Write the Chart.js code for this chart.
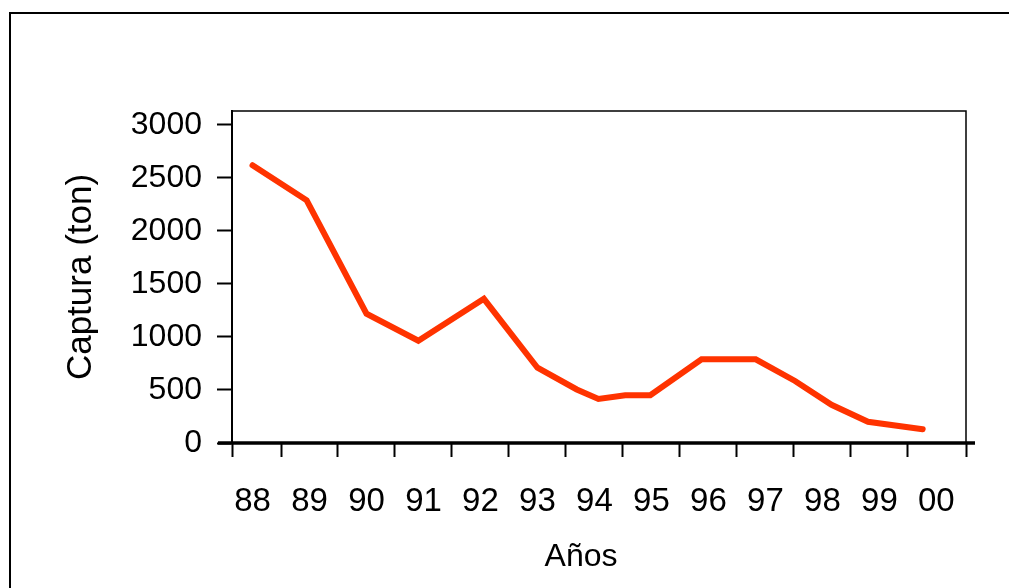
<!DOCTYPE html>
<html lang="es">

<head>
    <meta charset="UTF-8">
    <title>Captura (ton) por año</title>
    <script src="https://cdn.jsdelivr.net/npm/chart.js"></script>
    <style>
        body { margin: 0; overflow: hidden; background: #fff; }
        #marco {
            position: absolute; left: 9px; top: 12px;
            width: 1100px; height: 700px;
            border: 2.5px solid #000;
        }
        #grafico-container {
            position: absolute; left: 0; top: 0;
            width: 1009px; height: 588px;
        }
    </style>
</head>

<body>
    <div id="marco"></div>
    <div id="grafico-container">
        <canvas id="grafico"></canvas>
    </div>

    <script>
        // años (posición de cada punto en el eje x) y captura en toneladas
        const anos = [88.0, 88.95, 90.0, 90.91, 92.06, 93.0, 93.69, 94.07, 94.54, 94.98, 95.88, 96.83, 97.52, 98.16, 98.8, 99.76];
        const captura = [2620, 2290, 1220, 965, 1360, 710, 505, 415, 450, 450, 790, 790, 585, 360, 200, 130];

        // etiquetas del eje x
        const anosEtiqueta = [88, 89, 90, 91, 92, 93, 94, 95, 96, 97, 98, 99, 100];
        const textoEtiqueta = ['88', '89', '90', '91', '92', '93', '94', '95', '96', '97', '98', '99', '00'];
        const marcasX = [88.5, 89.5, 90.5, 91.5, 92.5, 93.5, 94.5, 95.5, 96.5, 97.5, 98.5, 99.5];
        const xMin = 87.64;
        const xMax = 100.52;

        // eje y
        const ticksY = [0, 500, 1000, 1500, 2000, 2500, 3000];
        const yMax = 3132;

        const fuente = 'Liberation Sans, Arial, sans-serif';

        const extras = {
            id: 'extras',
            afterDraw(chart) {
                const ctx = chart.ctx;
                const area = chart.chartArea;
                const y0 = chart.scales.y.getPixelForValue(0);
                ctx.save();
                ctx.strokeStyle = '#000';
                // borde superior y derecho del area
                ctx.lineWidth = 1.5;
                ctx.beginPath();
                ctx.moveTo(area.left, area.top);
                ctx.lineTo(area.right, area.top);
                ctx.lineTo(area.right, y0);
                ctx.stroke();
                // linea del cero
                ctx.lineWidth = 3.5;
                ctx.beginPath();
                ctx.moveTo(area.left - 14, y0);
                ctx.lineTo(area.right + 9, y0);
                ctx.stroke();
                // titulo del eje x
                ctx.fillStyle = '#000';
                ctx.font = '32px ' + fuente;
                ctx.textAlign = 'center';
                ctx.textBaseline = 'middle';
                ctx.fillText('Años', 581, 557);
                ctx.restore();
            }
        };

        const ctx = document.getElementById('grafico').getContext('2d');
        const chart = new Chart(ctx, {
            type: 'line',
            data: {
                datasets: [{
                    label: 'Captura (ton)',
                    data: anos.map((a, i) => ({ x: a, y: captura[i] })),
                    borderColor: 'rgb(255, 51, 0)',
                    borderWidth: 6,
                    borderCapStyle: 'round',
                    pointRadius: 0,
                    tension: 0,
                    fill: false
                }]
            },
            options: {
                responsive: true,
                maintainAspectRatio: false,
                animation: false,
                events: [],
                layout: {
                    padding: { top: 111, right: 43, left: 0, bottom: 0 }
                },
                plugins: {
                    legend: { display: false },
                    tooltip: { enabled: false }
                },
                scales: {
                    x: {
                        type: 'linear',
                        min: xMin,
                        max: xMax,
                        afterFit(scale) { scale.height = 145; },
                        afterBuildTicks(scale) {
                            const vals = [xMin].concat(anosEtiqueta, marcasX, [xMax]).sort((a, b) => a - b);
                            scale.ticks = vals.map(v => ({ value: v }));
                        },
                        border: { display: false },
                        grid: {
                            drawOnChartArea: false,
                            drawTicks: true,
                            tickLength: 14,
                            tickWidth: 2,
                            tickColor: (c) => (c.tick && anosEtiqueta.includes(c.tick.value)) ? 'rgba(0,0,0,0)' : '#000'
                        },
                        ticks: {
                            autoSkip: false,
                            maxRotation: 0,
                            padding: 25,
                            color: '#000',
                            font: { family: fuente, size: 33 },
                            callback: (v) => {
                                const i = anosEtiqueta.indexOf(v);
                                return i >= 0 ? textoEtiqueta[i] : '';
                            }
                        }
                    },
                    y: {
                        min: 0,
                        max: yMax,
                        afterFit(scale) { scale.width = 232; },
                        afterBuildTicks(scale) {
                            scale.ticks = ticksY.map(v => ({ value: v }));
                        },
                        border: { display: true, color: '#000', width: 2 },
                        grid: {
                            drawOnChartArea: false,
                            drawTicks: true,
                            tickLength: 15,
                            tickWidth: 2,
                            tickColor: '#000'
                        },
                        ticks: {
                            padding: 15,
                            color: '#000',
                            font: { family: fuente, size: 32 },
                            callback: (v) => String(v)
                        },
                        title: {
                            display: true,
                            text: 'Captura (ton)',
                            color: '#000',
                            font: { family: fuente, size: 35 },
                            padding: { top: 60, bottom: 0 }
                        }
                    }
                }
            },
            plugins: [extras]
        });
    </script>
</body>

</html>
